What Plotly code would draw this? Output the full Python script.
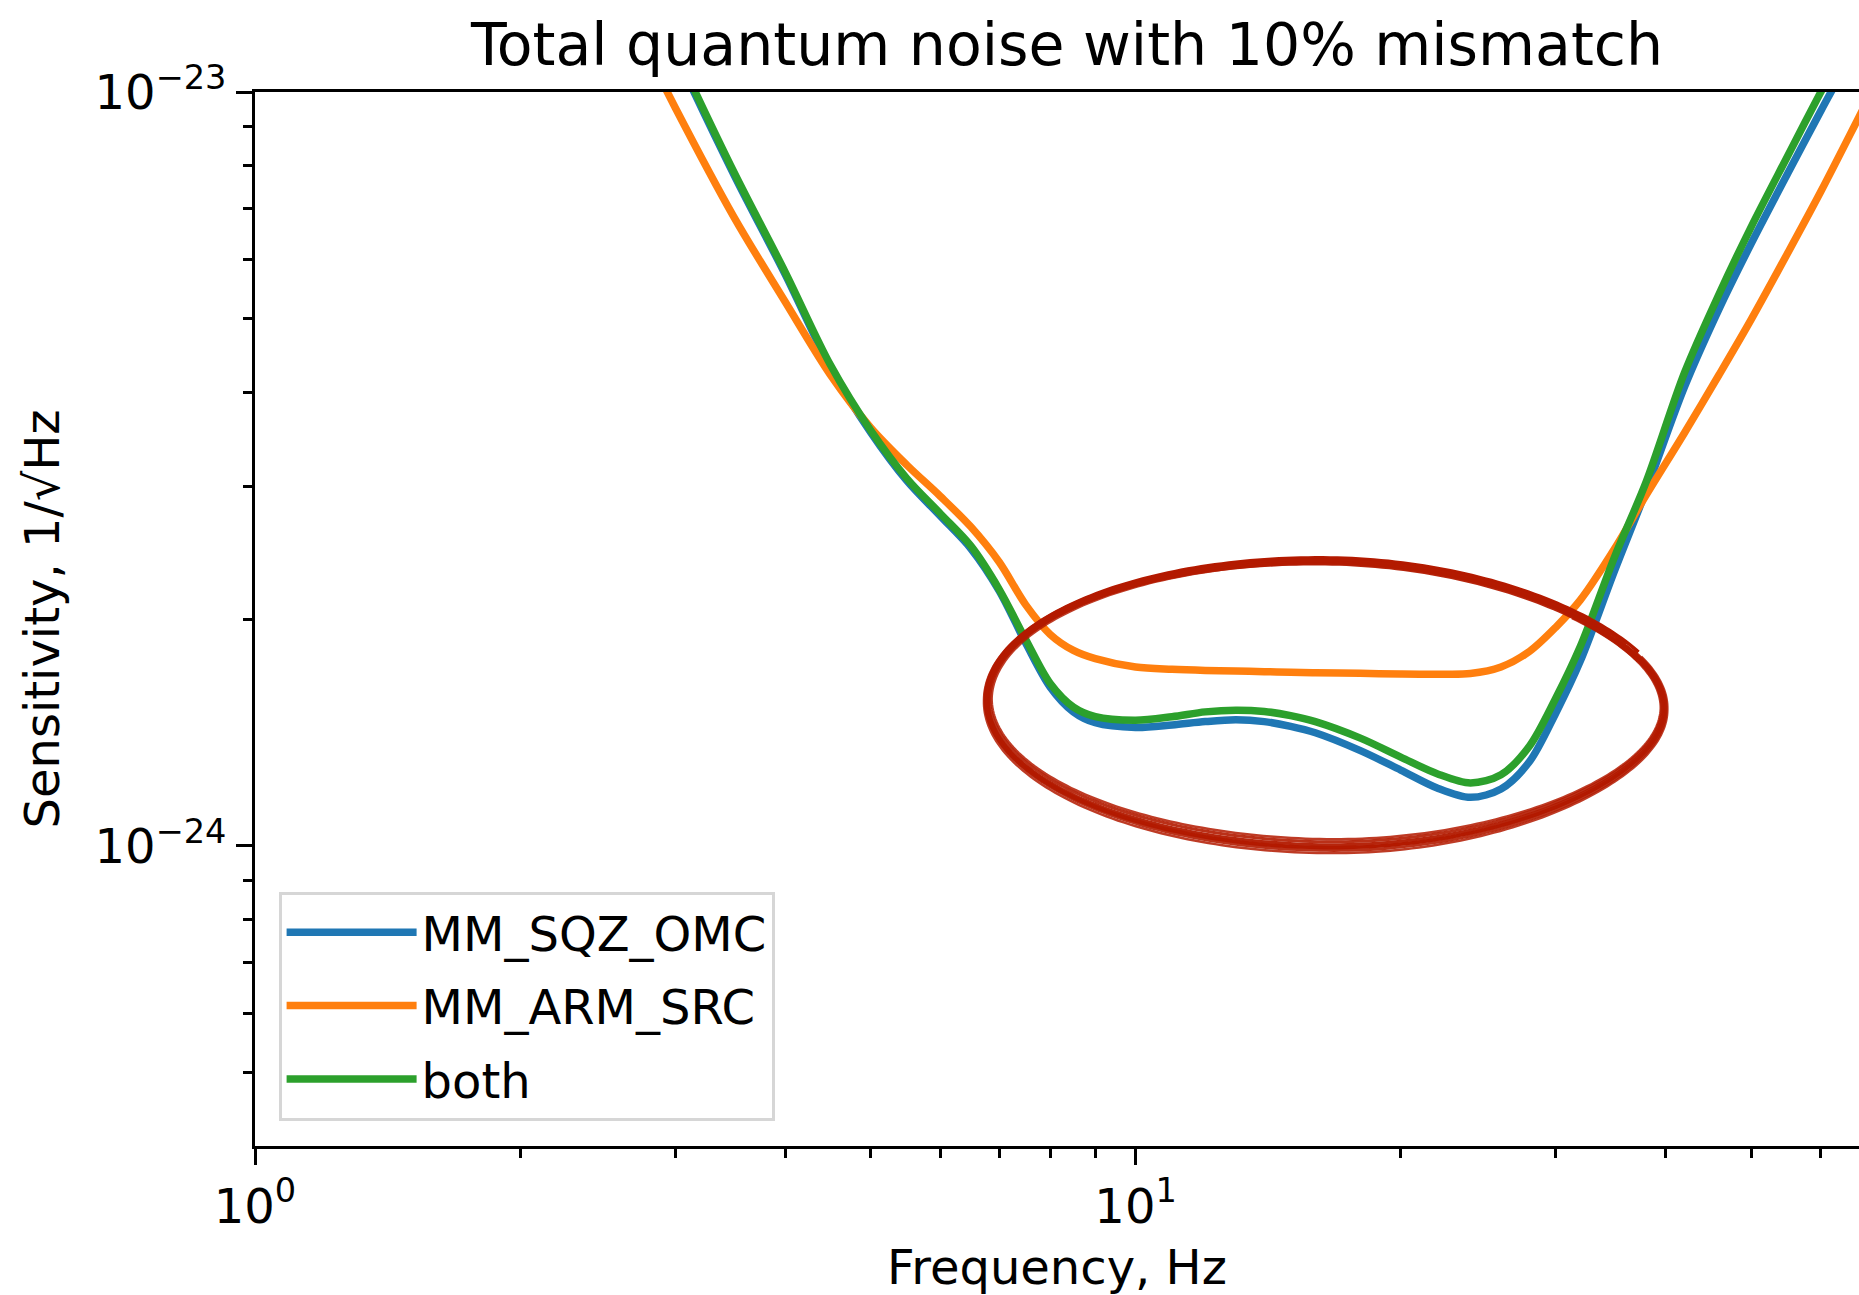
import numpy as np
import plotly.graph_objects as go

# ---------------- data ----------------
freq_hz = [2.8, 3, 3.5, 4, 4.5, 5, 5.5, 6, 6.5, 7, 7.5, 8, 8.5, 9, 10, 11, 12, 13, 14, 15,
           16, 18, 20, 22, 24, 26, 28, 30, 32, 35, 38, 42, 46, 50, 55, 60, 66, 68]

SCALE = 1e-24  # values below are in units of 1e-24 1/sqrt(Hz)

mm_sqz_omc = [13.5, 11.3, 7.76, 5.73, 4.32, 3.54, 3.05, 2.74, 2.48, 2.18,
              1.86, 1.624, 1.506, 1.457, 1.436, 1.447, 1.462, 1.470, 1.462, 1.441,
              1.413, 1.338, 1.261, 1.194, 1.160, 1.190, 1.293, 1.50, 1.76, 2.32,
              2.96, 4.06, 5.16, 6.29, 7.79, 9.44, 11.6, 12.5]

mm_arm_src = [11.2, 9.54, 6.82, 5.27, 4.22, 3.59, 3.20, 2.91, 2.65, 2.38,
              2.09, 1.908, 1.817, 1.772, 1.727, 1.715, 1.709, 1.706, 1.703, 1.700,
              1.697, 1.694, 1.691, 1.690, 1.693, 1.727, 1.811, 1.95, 2.12, 2.48,
              2.92, 3.53, 4.22, 4.99, 6.11, 7.38, 9.17, 9.82]

both = [13.6, 11.4, 7.82, 5.77, 4.35, 3.56, 3.07, 2.76, 2.50, 2.19,
        1.88, 1.642, 1.528, 1.484, 1.468, 1.484, 1.506, 1.514, 1.508, 1.489,
        1.462, 1.390, 1.312, 1.247, 1.212, 1.243, 1.356, 1.57, 1.84, 2.42,
        3.04, 4.24, 5.40, 6.62, 8.22, 10.0, 12.3, 13.3]

series_names = ["MM_SQZ_OMC", "MM_ARM_SRC", "both"]
series_colors = ["#1f77b4", "#ff7f0e", "#2ca02c"]

x_tickvals = [1, 10]
x_ticktext = ["10<sup>0</sup>", "10<sup>1</sup>"]
x_minor = [2, 3, 4, 5, 6, 7, 8, 9, 20, 30, 40, 50, 60]
y_tickvals = [1e-24, 1e-23]
y_ticktext = ["10<sup>\u221224</sup>", "10<sup>\u221223</sup>"]
y_minor = [5e-25, 6e-25, 7e-25, 8e-25, 9e-25, 2e-24, 3e-24, 4e-24, 5e-24, 6e-24, 7e-24, 8e-24, 9e-24]

x_range = [1.0, 66.3]
y_range = [4e-25, 1e-23]

title_text = "Total quantum noise with 10% mismatch"
x_title = "Frequency, Hz"
y_title = "Sensitivity, 1/\u221aHz"

FONT = "DejaVu Sans"

# ---------------- figure ----------------
fig = go.Figure()
for name, vals, col in zip(series_names, [mm_sqz_omc, mm_arm_src, both], series_colors):
    fig.add_trace(go.Scatter(
        x=freq_hz, y=[v * SCALE for v in vals], mode="lines", name=name,
        line=dict(color=col, width=7.5, shape="spline", smoothing=0.9),
        legendgroup=name,
    ))

W, H = 1859, 1295
ML, MR, MT, MB = 255, 0, 92, 149

axis_common = dict(
    type="log", showgrid=False, zeroline=False,
    showline=True, linecolor="black", linewidth=3,
    ticks="outside", ticklen=16, tickwidth=3, tickcolor="black",
    tickfont=dict(family=FONT, size=48, color="black"),
    tickmode="array",
)

fig.update_xaxes(
    **axis_common,
    range=[np.log10(x_range[0]), np.log10(x_range[1])],
    tickvals=x_tickvals, ticktext=x_ticktext, mirror=True,
    minor=dict(tickmode="array", tickvals=x_minor, ticks="outside", ticklen=9, tickwidth=2.5,
               tickcolor="black", showgrid=False),
    title=dict(text=x_title, font=dict(family=FONT, size=48, color="black"), standoff=20),
)
fig.update_yaxes(
    **axis_common,
    range=[np.log10(y_range[0]), np.log10(y_range[1])],
    tickvals=y_tickvals, ticktext=y_ticktext,
    minor=dict(tickmode="array", tickvals=y_minor, ticks="outside", ticklen=9, tickwidth=2.5,
               tickcolor="black", showgrid=False),
    title=dict(text=y_title, font=dict(family=FONT, size=48, color="black"), standoff=20),
)

# hand-drawn red ellipse highlighting the bucket (paper coordinates)
pw, ph = W - ML - MR, H - MT - MB
def px_to_paper(px, py):
    return (px - ML) / pw, (H - MB - py) / ph

cx, cy, a, b = 1326.0, 704.0, 338.0, 142.0
rot = 0.014
strokes = [  # (radial offset, start angle, end drift, width, opacity)
    (0.0, -0.55, 5.0, 3.5, 1.0),
    (2.2, -0.50, -4.0, 3.0, 0.95),
    (-2.2, -0.62, 4.0, 3.0, 0.95),
    (4.4, -0.45, -3.0, 3.0, 0.9),
    (-4.4, -0.70, 3.0, 3.0, 0.9),
    (6.4, -0.40, -2.0, 2.5, 0.85),
    (-6.4, -0.75, 2.5, 2.5, 0.85),
]
for off, t0, drift, w, op in strokes:
    t = np.linspace(t0, t0 + 2 * np.pi + 0.12, 300)
    frac = (t - t0) / (t[-1] - t0)
    c, s = np.cos(t), np.sin(t)
    # band is thicker along the bottom and the left than along the top
    k = off * (0.55 + 0.65 * np.clip(s, 0, None) + 0.25 * np.clip(-c, 0, None)) + drift * frac
    bb = (b + k) * (1 - 0.10 * np.clip(c, 0, None) ** 2)  # slightly narrower right end
    ex = (a + k) * c
    ey = bb * s
    xs = cx + ex * np.cos(rot) - ey * np.sin(rot)
    ys = cy + ex * np.sin(rot) + ey * np.cos(rot)
    pts = [px_to_paper(x, y) for x, y in zip(xs, ys)]
    path = "M " + " L ".join(f"{p[0]:.5f},{p[1]:.5f}" for p in pts)
    fig.add_shape(type="path", path=path, xref="paper", yref="paper", opacity=op,
                  line=dict(color="#b31a00", width=w), layer="above")

lx, ly = px_to_paper(278.6, 891.5)
fig.update_layout(
    width=W, height=H,
    margin=dict(l=ML, r=MR, t=MT, b=MB, pad=0),
    paper_bgcolor="white", plot_bgcolor="white",
    font=dict(family=FONT, size=48, color="black"),
    title=dict(text=title_text, font=dict(family=FONT, size=58.5, color="black"),
               x=1067 / W, xanchor="center",
               y=1 - 45 / H, yanchor="middle", xref="container", yref="container"),
    legend=dict(x=lx, y=ly, xanchor="left", yanchor="top",
                font=dict(family=FONT, size=48, color="black"),
                bgcolor="rgba(255,255,255,0.8)", bordercolor="#d6d6d6", borderwidth=3,
                tracegroupgap=8, itemwidth=130),
    showlegend=True,
)

fig.write_html("out.html")
